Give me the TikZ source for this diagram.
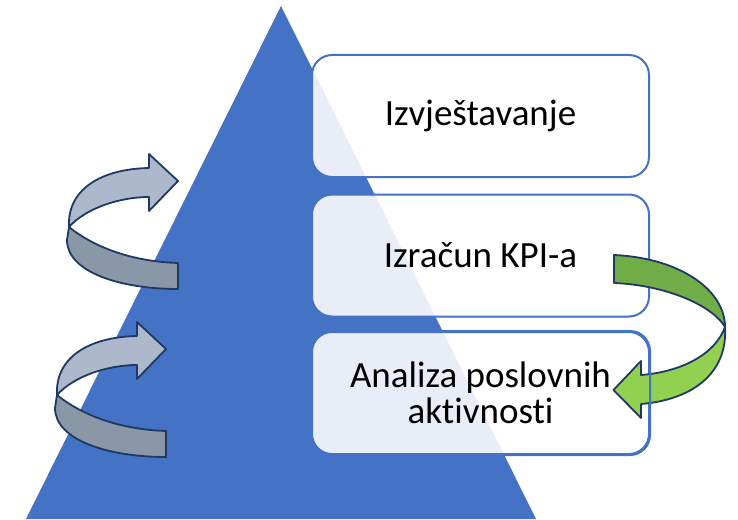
\documentclass[tikz,border=0pt]{standalone}
\usepackage{fontspec}
\setmainfont{Carlito}[Ligatures=NoCommon]
\definecolor{pyrblue}{HTML}{4472C4}
\definecolor{outline}{HTML}{1F3864}
\definecolor{greylight}{HTML}{ADB9CA}
\definecolor{greydark}{HTML}{8A97A6}
\definecolor{greenlight}{HTML}{92D050}
\definecolor{greendark}{HTML}{70AD47}
\tikzset{
  stagebox/.style={draw=pyrblue, line width=2pt, fill=white, fill opacity=0.88,
    text opacity=1, rounded corners=20pt, minimum width=337pt, minimum height=122pt,
    inner sep=0pt, align=center, font=\fontsize{37}{36}\selectfont},
  stageborder/.style={draw=pyrblue, line width=2pt, rounded corners=20pt},
  band/.style={draw=outline, line width=1.8pt, line join=round},
  pics/loopback/.style={code={
    % front (lower) part of the band, ending in a flat tail
    \path[band, fill=greydark] (69,227) .. controls (85,240) and (120,261) .. (178,263)
      -- (178,289) .. controls (120,289) and (67,272) .. (67,240) -- cycle;
    % back (upper) part of the band with the arrow head
    \path[band, fill=greylight] (149,168) -- (149,154) -- (178,181) -- (149,211) -- (149,197)
      .. controls (120,197) and (86,208) .. (69,227)
      .. controls (67,190) and (100,169) .. (149,168) -- cycle;
  }}
}
\begin{document}
\begin{tikzpicture}[x=1pt, y=-1pt]
\useasboundingbox (0,0) rectangle (738,519);

% pyramid
\fill[pyrblue] (281,6) -- (536,519) -- (26,519) -- cycle;

% stage boxes
\node[stagebox] (top) at (480.5,116) {Izvještavanje};
\node[stagebox] (mid) at (480.5,255.5) {Izračun KPI-a};
\node[stagebox] (low) at (480.5,393) {Analiza poslovnih\\aktivnosti};

% circular arrows on the left of the pyramid
\pic at (0,0) {loopback};
\pic at (-12,168) {loopback};

% green arrow from the middle stage down to the lowest stage
\path[band, fill=greendark] (614,255) .. controls (680,258) and (725,290) .. (725,327)
  .. controls (712,305) and (665,285) .. (614,283) -- cycle;
\path[band, fill=greenlight] (725,327) .. controls (728,375) and (690,400) .. (641,404)
  -- (641,418) -- (613.5,390) -- (641,361) -- (641,375)
  .. controls (680,372) and (715,355) .. (725,327) -- cycle;

% border of the lowest stage lies over the arrow head
\draw[stageborder] (low.south west) rectangle (low.north east);
\end{tikzpicture}
\end{document}
